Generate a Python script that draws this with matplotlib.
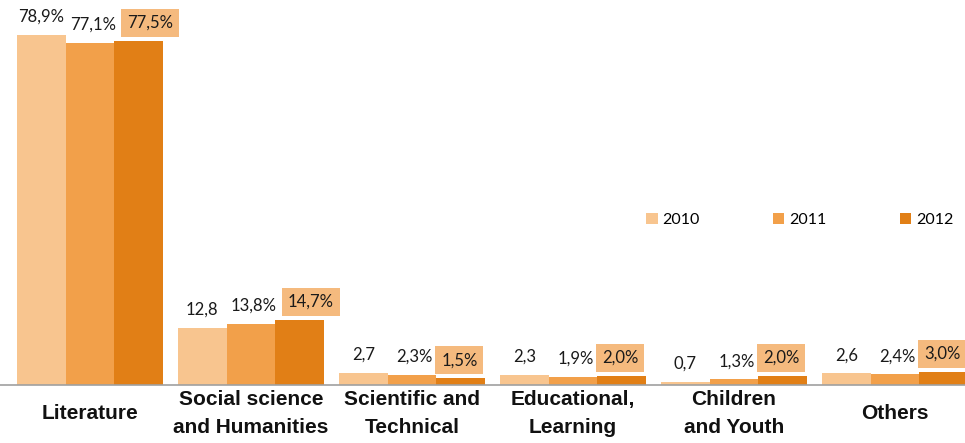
import matplotlib
matplotlib.use("Agg")
import matplotlib.pyplot as plt
import matplotlib.transforms as mtransforms
import numpy as np

categories = ["Literature", "Social science\nand Humanities", "Scientific and\nTechnical",
              "Educational,\nLearning", "Children\nand Youth", "Others"]
years = ["2010", "2011", "2012"]
v2010 = [78.9, 12.8, 2.7, 2.3, 0.7, 2.6]
v2011 = [77.1, 13.8, 2.3, 1.9, 1.3, 2.4]
v2012 = [77.5, 14.7, 1.5, 2.0, 2.0, 3.0]
lab2010 = ["78,9%", "12,8", "2,7", "2,3", "0,7", "2,6"]
lab2011 = ["77,1%", "13,8%", "2,3%", "1,9%", "1,3%", "2,4%"]
lab2012 = ["77,5%", "14,7%", "1,5%", "2,0%", "2,0%", "3,0%"]

colors = ["#F8C58F", "#F2A04A", "#E17F16"]
BOX = "#F5BA7E"
VAL_FONT = "Lato"
CAT_FONT = "Liberation Sans"

fig = plt.figure(figsize=(9.65, 4.43), dpi=100)
ax = fig.add_axes([0, 0.131, 1, 0.869])

x = np.arange(len(categories))
w = 0.3025
series = [v2010, v2011, v2012]
labels = [lab2010, lab2011, lab2012]
for i, (vals, labs) in enumerate(zip(series, labels)):
    xs = x + (i - 1) * w
    ax.bar(xs, vals, w, color=colors[i], edgecolor="none", label=years[i])
    for j, (xi, v, t) in enumerate(zip(xs, vals, labs)):
        if i == 2:
            # the two big groups have their boxes nudged right in the source
            dx = 8 if j < 2 else -1
            ax.annotate(t, xy=(xi, v), xytext=(dx, 13), textcoords="offset points",
                        ha="center", va="center", fontsize=12, family=VAL_FONT,
                        color="#1a1a1a",
                        bbox=dict(boxstyle="square,pad=0.36", fc=BOX, ec="none"))
        else:
            ax.annotate(t, xy=(xi, v), xytext=(2 * i, 13), textcoords="offset points",
                        ha="center", va="center", fontsize=12, family=VAL_FONT,
                        color="#1a1a1a")

trans = mtransforms.blended_transform_factory(ax.transData, ax.transAxes)
for xi, c in zip(x, categories):
    ax.text(xi, -0.074, c, transform=trans, ha="center", va="center",
            fontsize=15, fontweight="bold", family=CAT_FONT, color="#111111",
            linespacing=1.55, clip_on=False)

ax.set_xlim(-0.559, 5.435)
ax.set_ylim(0, 86.7)
for s in ("left", "right", "top"):
    ax.spines[s].set_visible(False)
ax.spines["bottom"].set_color("#A0A0A0")
ax.spines["bottom"].set_linewidth(1.2)
ax.set_xticks([])
ax.set_yticks([])
ax.patch.set_alpha(0)

ax.legend(ncol=3, frameon=False, loc="center left", bbox_to_anchor=(0.655, 0.428),
          handlelength=0.7, handleheight=0.7, handletextpad=0.3, columnspacing=4.6,
          prop={"family": VAL_FONT, "size": 11.5})

fig.savefig("out.png", dpi=100, facecolor="white")
